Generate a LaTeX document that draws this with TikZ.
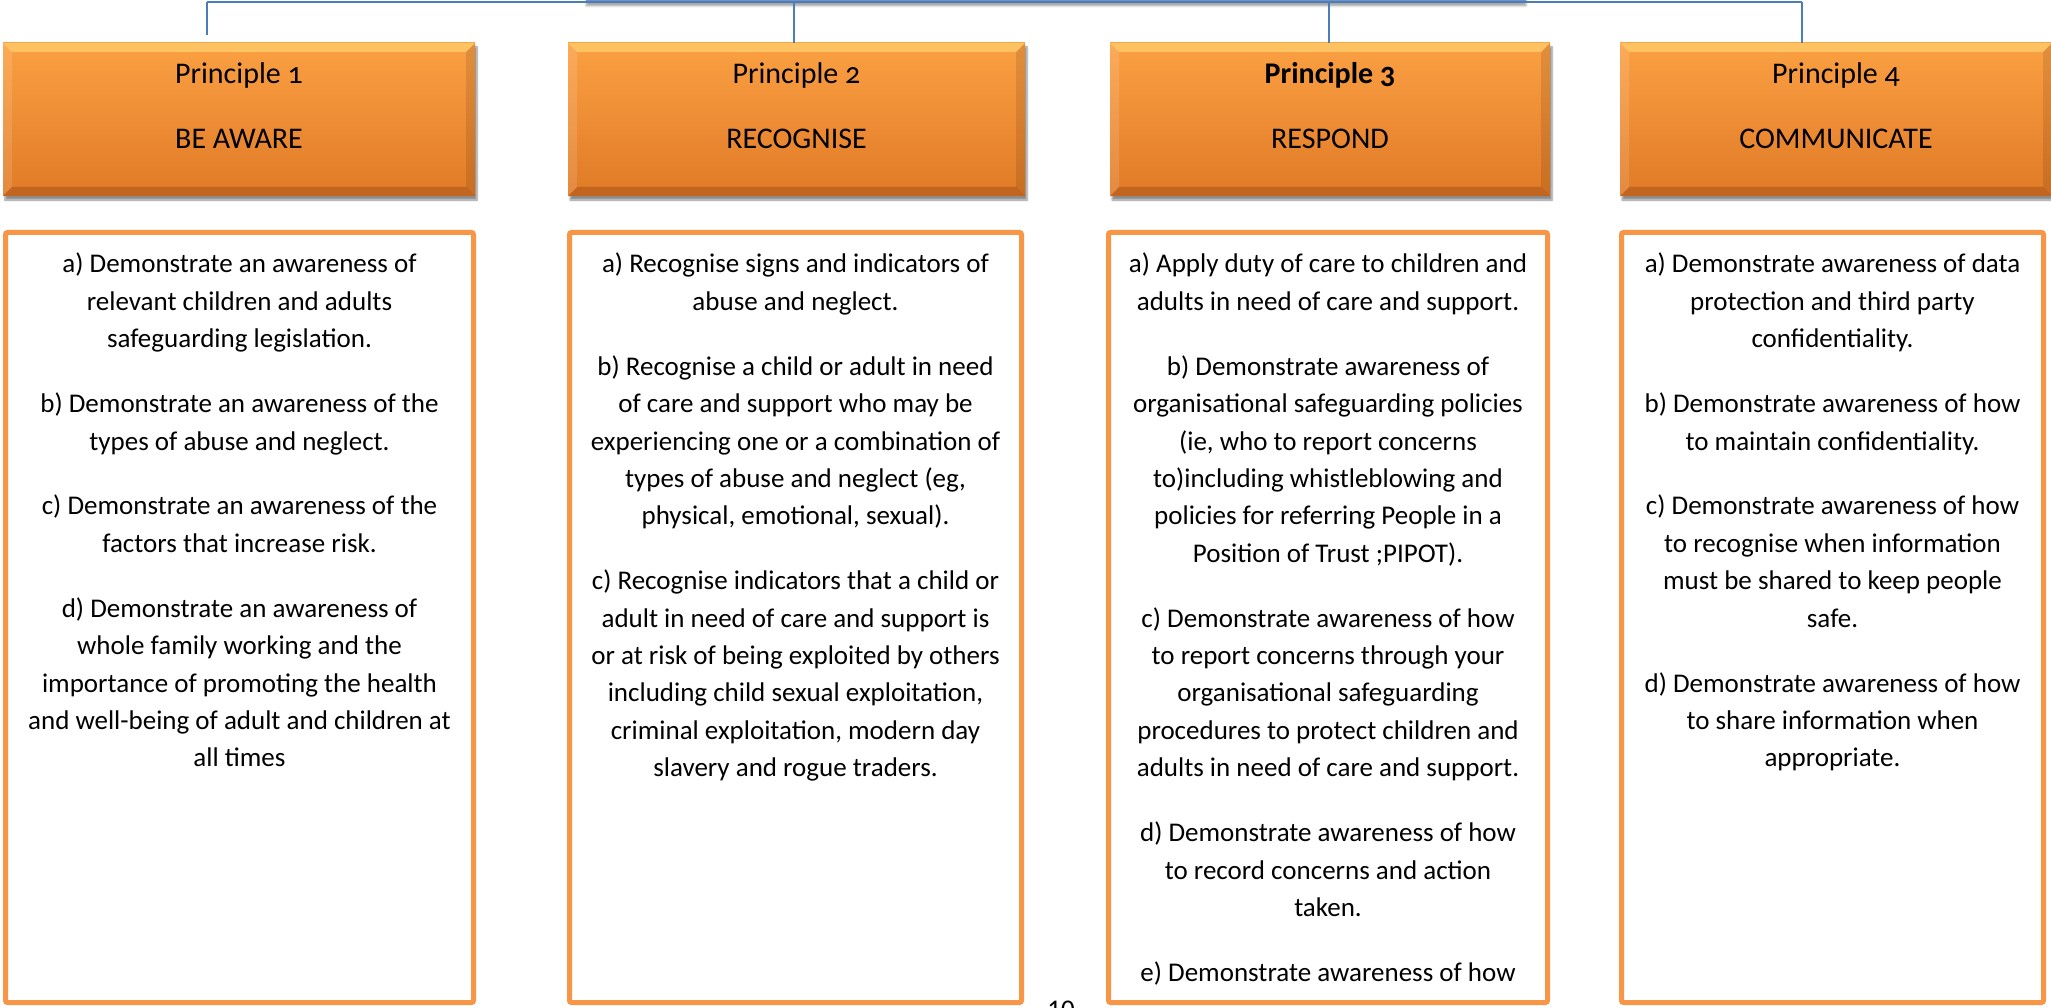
\documentclass[tikz,border=0pt]{standalone}
\usepackage{fontspec}
\setmainfont{Carlito}
\usetikzlibrary{shadows.blur}
\definecolor{hTop}{HTML}{FBA043}
\definecolor{hMid}{HTML}{F7962F}
\definecolor{hBot}{HTML}{E07A26}
\definecolor{bevTop}{HTML}{FDC262}
\definecolor{bevBot}{HTML}{C2651E}
\definecolor{boxOr}{HTML}{F79646}
\definecolor{lineBl}{HTML}{4A7EBB}
\definecolor{rootTop}{HTML}{8FA9CF}
\definecolor{rootBot}{HTML}{6F8FC0}
\tikzset{
  hdr/.style={rectangle, inner sep=0pt, minimum height=153pt,
    top color=hTop, middle color=hMid, bottom color=hBot,
    blur shadow={shadow xshift=2pt, shadow yshift=-4pt, shadow blur steps=6, shadow opacity=45},
    path picture={
      \fill[bevTop] (path picture bounding box.north west) -- (path picture bounding box.north east)
        -- ([shift={(-9pt,-9pt)}]path picture bounding box.north east)
        -- ([shift={(9pt,-9pt)}]path picture bounding box.north west) -- cycle;
      \fill[bevBot] (path picture bounding box.south west) -- (path picture bounding box.south east)
        -- ([shift={(-9pt,9pt)}]path picture bounding box.south east)
        -- ([shift={(9pt,9pt)}]path picture bounding box.south west) -- cycle;
      \fill[white,opacity=0.12] (path picture bounding box.north west)
        -- ([shift={(9pt,-9pt)}]path picture bounding box.north west)
        -- ([shift={(9pt,9pt)}]path picture bounding box.south west)
        -- (path picture bounding box.south west) -- cycle;
      \fill[black,opacity=0.10] (path picture bounding box.north east)
        -- ([shift={(-9pt,-9pt)}]path picture bounding box.north east)
        -- ([shift={(-9pt,9pt)}]path picture bounding box.south east)
        -- (path picture bounding box.south east) -- cycle;
    }},
  htext/.style={anchor=base, inner sep=0pt, font=\fontsize{30}{34}\selectfont\addfontfeatures{Numbers=OldStyle}},
  cbox/.style={rectangle, draw=boxOr, line width=5pt, rounded corners=2pt, fill=white,
    inner sep=0pt, minimum height=770pt},
  ctext/.style={anchor=north, inner sep=0pt, align=center, font=\fontsize{27}{37.4}\selectfont},
  conn/.style={draw=lineBl, line width=2pt},
  rootbox/.style={rectangle, inner sep=0pt, minimum width=940pt, minimum height=28pt,
    top color=rootTop, bottom color=rootBot,
    blur shadow={shadow xshift=0pt, shadow yshift=-3pt, shadow blur steps=5, shadow opacity=35}},
}
\begin{document}
\begin{tikzpicture}[x=1pt,y=-1pt]
\useasboundingbox (0,0) rectangle (2051,1008);
% root (mostly off page)
\node[rootbox] (root) at (1056,-11) {};
% bus
\coordinate (bus1) at (207,2);
\coordinate (bus2) at (794,2);
\coordinate (bus3) at (1329,2);
\coordinate (bus4) at (1802,2);
\coordinate (end1) at (207,35);
% headers
\node[hdr, minimum width=472pt] (h1) at (239,119.5) {};
\node[hdr, minimum width=457pt] (h2) at (796.5,119.5) {};
\node[hdr, minimum width=440pt] (h3) at (1330,119.5) {};
\node[hdr, minimum width=432pt] (h4) at (1836,119.5) {};
\draw[conn] (bus1) -- (bus4);
\draw[conn] (bus1) -- (end1);
\draw[conn] (bus2) -- (bus2 |- h2.north);
\draw[conn] (bus3) -- (bus3 |- h3.north);
\draw[conn] (bus4) -- (bus4 |- h4.north);
% header texts
\node[htext] (p1) at (239,84) {Principle 1};
\node[htext] (n1) at (239,149) {BE AWARE};
\node[htext] (p2) at (796.5,84) {Principle 2};
\node[htext] (n2) at (796.5,149) {RECOGNISE};
\node[htext] (p3) at (1330,84) {\bfseries Principle 3};
\node[htext] (n3) at (1330,149) {RESPOND};
\node[htext] (p4) at (1836,84) {Principle 4};
\node[htext] (n4) at (1836,149) {COMMUNICATE};
% content boxes
\node[cbox, minimum width=468pt] (c1) at (239.5,617.5) {};
\node[cbox, minimum width=452pt] (c2) at (795.5,617.5) {};
\node[cbox, minimum width=439pt] (c3) at (1328,617.5) {};
\node[cbox, minimum width=422pt] (c4) at (1832.5,617.5) {};
% content texts
\node[ctext] (t1) at (239.5,253) {a) Demonstrate an awareness of\\relevant children and adults\\safeguarding legislation.\\[27.5pt]
b) Demonstrate an awareness of the\\types of abuse and neglect.\\[27.5pt]
c) Demonstrate an awareness of the\\factors that increase risk.\\[27.5pt]
d) Demonstrate an awareness of\\whole family working and the\\importance of promoting the health\\and well-being of adult and children at\\all times};
\node[ctext] (t2) at (795.5,253) {a) Recognise signs and indicators of\\abuse and neglect.\\[27.5pt]
b) Recognise a child or adult in need\\of care and support who may be\\experiencing one or a combination of\\types of abuse and neglect (eg,\\physical, emotional, sexual).\\[27.5pt]
c) Recognise indicators that a child or\\adult in need of care and support is\\or at risk of being exploited by others\\including child sexual exploitation,\\criminal exploitation, modern day\\slavery and rogue traders.};
\node[ctext] (t3) at (1328,253) {a) Apply duty of care to children and\\adults in need of care and support.\\[27.5pt]
b) Demonstrate awareness of\\organisational safeguarding policies\\(ie, who to report concerns\\to)including whistleblowing and\\policies for referring People in a\\Position of Trust ;PIPOT).\\[27.5pt]
c) Demonstrate awareness of how\\to report concerns through your\\organisational safeguarding\\procedures to protect children and\\adults in need of care and support.\\[27.5pt]
d) Demonstrate awareness of how\\to record concerns and action\\taken.\\[27.5pt]
e) Demonstrate awareness of how};
\node[ctext] (t4) at (1832.5,253) {a) Demonstrate awareness of data\\protection and third party\\confidentiality.\\[27.5pt]
b) Demonstrate awareness of how\\to maintain confidentiality.\\[27.5pt]
c) Demonstrate awareness of how\\to recognise when information\\must be shared to keep people\\safe.\\[27.5pt]
d) Demonstrate awareness of how\\to share information when\\appropriate.};
% page number (cut off at bottom)
\node[anchor=north, inner sep=0pt, font=\fontsize{27}{30}\selectfont] (pg) at (1061,1001) {10};
\end{tikzpicture}
\end{document}
